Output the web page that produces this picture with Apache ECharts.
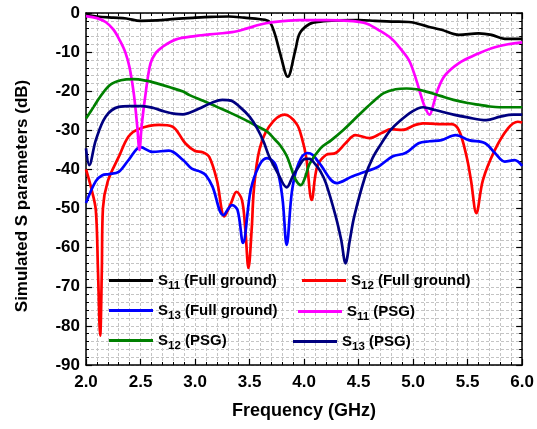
<!DOCTYPE html>
<html><head><meta charset="utf-8">
<script src="https://cdn.jsdelivr.net/npm/echarts@6/dist/echarts.min.js"></script>
<style>html,body{margin:0;padding:0;background:#fff}#c{width:537px;height:429px}</style>
</head><body><div id="c"></div>
<script>
// Frequency (GHz) / dB pairs
const s11Full = [[2.0,-0.5],[2.1,-0.9],[2.25,-1.2],[2.37,-1.4],[2.5,-2.0],[2.65,-1.9],[2.82,-1.5],[3.0,-1.2],[3.15,-1.0],[3.31,-0.9],[3.45,-1.2],[3.6,-1.6],[3.68,-2.2],[3.73,-5.2],[3.78,-10.3],[3.85,-16.3],[3.92,-9.5],[3.96,-5.2],[4.05,-2.8],[4.15,-2.2],[4.3,-1.9],[4.5,-1.8],[4.65,-2.0],[4.8,-2.2],[4.96,-2.3],[5.14,-3.5],[5.26,-4.3],[5.42,-5.6],[5.6,-5.2],[5.72,-5.6],[5.84,-6.6],[6.0,-6.6]];
const s12Full = [[2.0,-40],[2.05,-45],[2.09,-50.4],[2.11,-66],[2.13,-82.5],[2.145,-66],[2.155,-50],[2.2,-43],[2.3,-36.8],[2.39,-31.6],[2.48,-29.7],[2.67,-28.6],[2.79,-29],[2.91,-33.3],[3.0,-35.3],[3.07,-35.6],[3.13,-36.8],[3.2,-42.7],[3.27,-52],[3.33,-48.6],[3.38,-45.7],[3.43,-47.8],[3.46,-55],[3.49,-65.2],[3.52,-55],[3.54,-45],[3.59,-35],[3.68,-29],[3.82,-26],[3.93,-28.3],[3.98,-32],[4.02,-37],[4.07,-47.8],[4.12,-39.3],[4.2,-36.3],[4.29,-35.8],[4.38,-33.3],[4.47,-31.2],[4.6,-32],[4.71,-30.7],[4.8,-29.7],[4.9,-29.9],[5.02,-28.6],[5.09,-28.2],[5.23,-28.4],[5.35,-28.4],[5.42,-30],[5.49,-36.7],[5.53,-42.7],[5.58,-51.2],[5.64,-42.7],[5.75,-35],[5.87,-29.5],[5.96,-27.8],[6.0,-28]];
const s13Full = [[2.0,-48.6],[2.09,-43],[2.15,-41.5],[2.21,-41.2],[2.3,-40.6],[2.39,-37.6],[2.5,-34.3],[2.61,-35.5],[2.76,-35.2],[2.89,-37.6],[2.97,-39.8],[3.05,-40.6],[3.1,-41.5],[3.16,-44.4],[3.26,-51.7],[3.34,-49.1],[3.39,-50.4],[3.44,-58.8],[3.51,-45.3],[3.59,-38.9],[3.66,-37.1],[3.74,-38.9],[3.8,-47],[3.84,-59.3],[3.89,-45.3],[3.95,-38.4],[4.03,-35.8],[4.08,-36.3],[4.14,-38.4],[4.3,-43.5],[4.44,-41.8],[4.56,-40.6],[4.68,-39.3],[4.81,-36.7],[4.93,-35.8],[5.05,-33.3],[5.15,-32.8],[5.26,-32.5],[5.39,-31.2],[5.51,-32.5],[5.66,-33.3],[5.75,-35.8],[5.84,-38],[5.93,-37.6],[6.0,-39.1]];
const s11Psg = [[2.0,-0.8],[2.1,-1.3],[2.18,-2.3],[2.25,-4.2],[2.31,-7],[2.36,-10],[2.4,-14],[2.44,-21],[2.47,-29],[2.49,-35],[2.51,-29],[2.54,-22],[2.59,-13],[2.64,-10.2],[2.7,-8.7],[2.82,-6.8],[3.0,-5.9],[3.2,-5.3],[3.34,-4.9],[3.47,-4.0],[3.59,-3.0],[3.7,-2.4],[3.95,-1.8],[4.2,-1.8],[4.45,-2.1],[4.57,-2.7],[4.68,-4.3],[4.8,-6.5],[4.88,-9],[4.96,-12],[5.01,-15.5],[5.06,-20],[5.1,-23.5],[5.15,-26],[5.19,-23],[5.22,-20],[5.29,-16],[5.42,-12.8],[5.57,-10.7],[5.72,-9],[5.87,-8],[6.0,-7.5]];
const s12Psg = [[2.0,-27],[2.07,-24],[2.13,-21.4],[2.22,-18.4],[2.32,-17.2],[2.43,-16.9],[2.55,-17.3],[2.65,-18],[2.77,-19],[2.89,-20.1],[2.95,-21],[3.08,-22.5],[3.2,-24],[3.33,-25.6],[3.45,-27.2],[3.56,-28.8],[3.66,-30.3],[3.72,-32],[3.78,-33.8],[3.84,-36.5],[3.88,-39.5],[3.92,-42.5],[3.97,-44],[4.01,-42],[4.05,-38.6],[4.15,-34.6],[4.25,-32.5],[4.36,-29.9],[4.45,-27.5],[4.55,-24.8],[4.64,-22.5],[4.73,-20.5],[4.84,-19.5],[4.94,-19.3],[5.03,-19.5],[5.12,-20.1],[5.25,-21.2],[5.37,-22.2],[5.5,-23],[5.61,-23.5],[5.7,-23.9],[5.79,-24.1],[6.0,-24.1]];
const s13Psg = [[2.0,-34.6],[2.03,-38.9],[2.09,-32.5],[2.18,-26.5],[2.3,-24],[2.4,-23.8],[2.52,-23.8],[2.62,-24.3],[2.72,-25.2],[2.82,-25.8],[2.89,-25.9],[2.96,-25.4],[3.04,-24.4],[3.15,-23],[3.25,-22.2],[3.33,-22.4],[3.41,-24],[3.5,-26.5],[3.57,-29.5],[3.63,-33],[3.68,-36.7],[3.76,-41],[3.84,-44.6],[3.9,-41.5],[3.95,-39.3],[4.01,-37.3],[4.05,-37.3],[4.1,-38.6],[4.15,-40.5],[4.2,-43.5],[4.29,-52],[4.34,-58],[4.38,-64],[4.42,-58],[4.46,-52],[4.56,-41.8],[4.63,-37],[4.71,-33.3],[4.79,-30],[4.87,-27.8],[4.99,-25.2],[5.09,-24.1],[5.2,-24.8],[5.37,-26],[5.5,-26.7],[5.67,-27.4],[5.8,-26.5],[5.92,-26],[6.0,-26]];

const seriesNames = ['S11 (Full ground)','S12 (Full ground)','S13 (Full ground)','S11 (PSG)','S12 (PSG)','S13 (PSG)'];
const seriesData = [s11Full, s12Full, s13Full, s11Psg, s12Psg, s13Psg];
const seriesColors = ['#000000','#ff0000','#0000ff','#ff00ff','#008000','#000080'];
const xTickLabels = ['2.0','2.5','3.0','3.5','4.0','4.5','5.0','5.5','6.0'];
const yTickLabels = ['-90','-80','-70','-60','-50','-40','-30','-20','-10','0'];

const FONT = '"Liberation Sans", Arial, sans-serif';
const chart = echarts.init(document.getElementById('c'), null, {renderer: 'canvas'});

const dash = {color: '#c4c4c4', width: 1, type: [3, 2]};
function mkAxis(extra) {
  return Object.assign({
    axisLine: {show: true, onZero: false, lineStyle: {color: '#000', width: 1.5}},
    axisTick: {show: true, inside: true, length: 6, lineStyle: {color: '#000', width: 1.2}},
    minorTick: {show: true, splitNumber: 5, length: 3, lineStyle: {color: '#000', width: 1}},
    splitLine: {show: false},
    minorSplitLine: {show: false}
  }, extra);
}

const legendPos = [
  {left: 109, top: 269}, {left: 302, top: 269},
  {left: 109, top: 299}, {left: 298, top: 300},
  {left: 109, top: 329}, {left: 293, top: 330}
];
const legends = seriesNames.map((n, i) => ({
  data: [n], left: legendPos[i].left, top: legendPos[i].top,
  icon: 'rect', itemWidth: 44, itemHeight: 3, padding: 0,
  formatter: name => {
    const m = name.match(/^S(\d+)(.*)$/);
    return '{a|S}{b|' + m[1] + '}{a|' + m[2] + '}';
  },
  textStyle: {
    fontFamily: FONT,
    rich: {
      a: {fontSize: 15, fontWeight: 'bold', color: '#000', fontFamily: FONT, lineHeight: 20},
      b: {fontSize: 11.5, fontWeight: 'bold', color: '#000', fontFamily: FONT, lineHeight: 20, padding: [11, 0, 0, 0]}
    }
  }
}));

chart.setOption({
  backgroundColor: '#fff',
  animation: false,
  grid: {left: 86, right: 13, top: 13, bottom: 64, containLabel: false},
  legend: legends,
  xAxis: [
    mkAxis({type: 'value', min: 2, max: 6, interval: 0.5, position: 'bottom',
      name: 'Frequency (GHz)', nameLocation: 'middle', nameGap: 37,
      nameTextStyle: {fontFamily: FONT, fontSize: 18, fontWeight: 'bold', color: '#000'},
      axisLabel: {margin: 9, fontFamily: FONT, fontSize: 17, fontWeight: 'bold', color: '#000',
        formatter: v => xTickLabels[Math.round((v - 2) / 0.5)]},
      splitLine: {show: true, lineStyle: dash},
      minorSplitLine: {show: true, lineStyle: dash}}),
    mkAxis({type: 'value', min: 2, max: 6, interval: 0.5, position: 'top', axisLabel: {show: false}})
  ],
  yAxis: [
    mkAxis({type: 'value', min: -90, max: 0, interval: 10, position: 'left',
      name: 'Simulated S parameters (dB)', nameLocation: 'middle', nameGap: 55, nameRotate: 90,
      nameTextStyle: {fontFamily: FONT, fontSize: 17, fontWeight: 'bold', color: '#000', padding: [0, 0, 0, -14]},
      axisLabel: {margin: 6, fontFamily: FONT, fontSize: 17, fontWeight: 'bold', color: '#000',
        formatter: v => yTickLabels[Math.round((v + 90) / 10)]},
      splitLine: {show: true, lineStyle: dash},
      minorSplitLine: {show: true, lineStyle: dash}}),
    mkAxis({type: 'value', min: -90, max: 0, interval: 10, position: 'right', axisLabel: {show: false}})
  ],
  series: seriesNames.map((n, i) => ({
    name: n, type: 'line', data: seriesData[i], xAxisIndex: 0, yAxisIndex: 0,
    showSymbol: false, symbol: 'none', smooth: 0.35,
    lineStyle: {color: seriesColors[i], width: 2.7},
    itemStyle: {color: seriesColors[i]},
    z: 3
  }))
});
</script></body></html>
